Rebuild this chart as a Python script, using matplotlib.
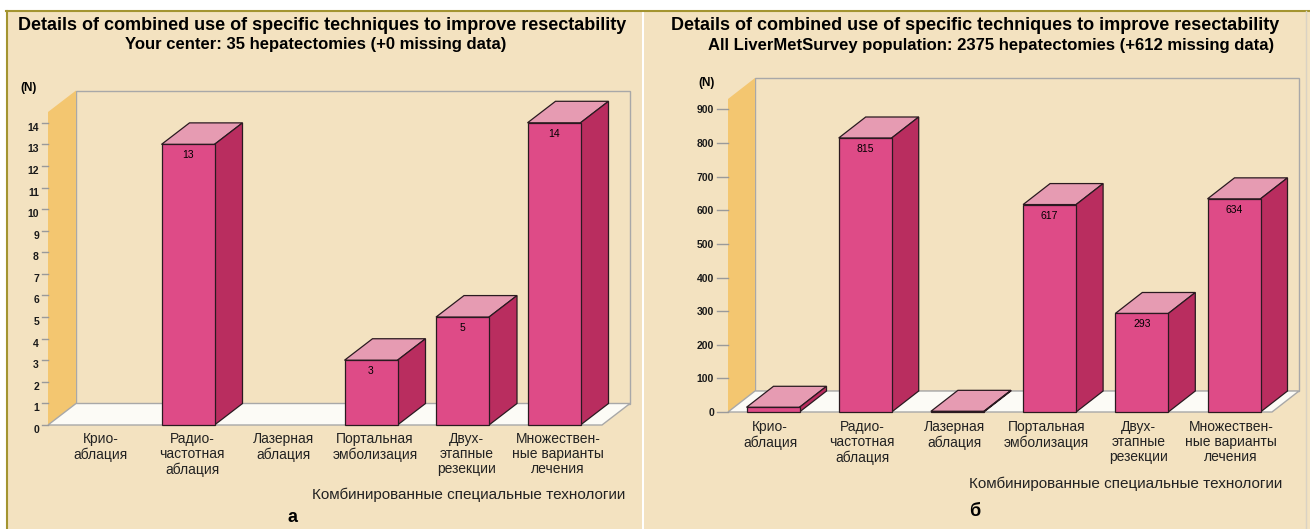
import matplotlib
matplotlib.use('Agg')
import matplotlib.pyplot as plt
from matplotlib.patches import Polygon, Rectangle
from matplotlib.lines import Line2D

plt.rcParams['font.family'] = ['Liberation Sans', 'DejaVu Sans']

# categories and counts
categories = ['Крио-\nаблация', 'Радио-\nчастотная\nаблация', 'Лазерная\nаблация',
              'Портальная\nэмболизация', 'Двух-\nэтапные\nрезекции',
              'Множествен-\nные варианты\nлечения']
center_counts = [0, 13, 0, 3, 5, 14]
survey_counts = [14, 815, 2, 617, 293, 634]
center_ticks = list(range(0, 15))
survey_ticks = list(range(0, 901, 100))

title = 'Details of combined use of specific techniques to improve resectability'
center_subtitle = 'Your center: 35 hepatectomies (+0 missing data)'
survey_subtitle = 'All LiverMetSurvey population: 2375 hepatectomies (+612 missing data)'
xlabel = 'Комбинированные специальные технологии'

W, H = 1310, 529
BG = '#F3E2C0'
OLIVE = '#A39430'
WALL_EDGE = '#A8A8A8'
FLOOR = '#FCFBF6'
YELLOW = '#F3C670'
FRONT = '#DE4B87'
TOP = '#E69BB2'
SIDE = '#B92D5F'
EDGE = '#2A1A20'


def fx(x):
    return x / W


def fy(y):
    return 1 - y / H


fig = plt.figure(figsize=(W / 100, H / 100), dpi=100)
fig.patch.set_facecolor('white')

# panel backgrounds and frame
fig.patches.append(Rectangle((fx(7), 0), fx(642) - fx(7), fy(11), transform=fig.transFigure,
                             fc=BG, ec='none', zorder=-5))
fig.patches.append(Rectangle((fx(644), 0), fx(1310) - fx(644), fy(11), transform=fig.transFigure,
                             fc=BG, ec='none', zorder=-5))
fig.lines.append(Line2D([fx(6), 1], [fy(10.5), fy(10.5)], transform=fig.transFigure,
                        color=OLIVE, lw=1.5, zorder=-4))
fig.lines.append(Line2D([fx(6.5), fx(6.5)], [0, fy(10.5)], transform=fig.transFigure,
                        color=OLIVE, lw=1.5, zorder=-4))
fig.lines.append(Line2D([fx(1306), fx(1306)], [0, fy(11)], transform=fig.transFigure,
                        color='#D9D2C4', lw=1, zorder=-4))


def draw_panel(counts, ticks, ymax, box, first_x, step, depth, tick_len, label_dy):
    left, top, right, bottom = box
    ax = fig.add_axes([fx(left), fy(bottom), (right - left) / W, (bottom - top) / H])
    xlo = (left - first_x) / step
    xhi = (right - first_x) / step
    ax.set_xlim(xlo, xhi)
    ax.set_ylim(0, ymax)
    ax.axis('off')

    px_x = (xhi - xlo) / (right - left)
    px_y = ymax / (bottom - top)
    ddx = depth[0] * px_x
    ddy = depth[1] * px_y

    # back wall, side wall, floor
    ax.add_patch(Polygon([(xlo + ddx, ddy), (xlo + ddx, ymax + ddy), (xhi + ddx, ymax + ddy),
                          (xhi + ddx, ddy)], closed=True, fc=BG, ec=WALL_EDGE, lw=1, clip_on=False))
    ax.add_patch(Polygon([(xlo, 0), (xlo, ymax), (xlo + ddx, ymax + ddy), (xlo + ddx, ddy)],
                         closed=True, fc=YELLOW, ec='none', clip_on=False))
    ax.add_patch(Polygon([(xlo, 0), (xhi, 0), (xhi + ddx, ddy), (xlo + ddx, ddy)],
                         closed=True, fc=FLOOR, ec=WALL_EDGE, lw=1, clip_on=False))

    # y ticks
    for t in ticks:
        ax.plot([xlo - tick_len * px_x, xlo], [t, t], color='#9A9A9A', lw=1, clip_on=False)
        ax.text(xlo - (tick_len + 3) * px_x, t - label_dy * px_y, str(t), ha='right', va='center',
                fontsize=7.5, fontweight='bold', color='#1A1A1A')

    # 3d bars
    bw = 53 * px_x
    for i, v in enumerate(counts):
        if v <= 0:
            continue
        x0, x1 = i - bw / 2, i + bw / 2
        ax.add_patch(Polygon([(x0, v), (x1, v), (x1 + ddx, v + ddy), (x0 + ddx, v + ddy)],
                             closed=True, fc=TOP, ec=EDGE, lw=0.9, clip_on=False, zorder=3))
        ax.add_patch(Polygon([(x1, 0), (x1 + ddx, ddy), (x1 + ddx, v + ddy), (x1, v)],
                             closed=True, fc=SIDE, ec=EDGE, lw=0.9, clip_on=False, zorder=3))
        ax.add_patch(Rectangle((x0, 0), bw, v, fc=FRONT, ec=EDGE, lw=0.9, clip_on=False, zorder=4))
        if v > ymax * 0.05:
            ax.text(i, v - 6 * px_y, str(v), ha='center', va='top', fontsize=7.5, zorder=5)
    return ax


# left panel: one center
draw_panel(center_counts, center_ticks, 14.5, (48, 112, 602, 425), 96.5, 91.5, (28, 21.5), 6, 5)
# right panel: whole survey
draw_panel(survey_counts, survey_ticks, 931, (728, 99, 1272, 412), 773, 92.2, (27, 21), 11, 1)

# titles
fig.text(fx(322), fy(25), title, ha='center', va='center', fontsize=13, fontweight='bold')
fig.text(fx(316), fy(44), center_subtitle, ha='center', va='center', fontsize=12, fontweight='bold')
fig.text(fx(975), fy(25), title, ha='center', va='center', fontsize=13, fontweight='bold')
fig.text(fx(991), fy(46), survey_subtitle, ha='center', va='center', fontsize=12, fontweight='bold')
fig.text(fx(29), fy(88), '(N)', ha='center', va='center', fontsize=8.5, fontweight='bold')
fig.text(fx(707), fy(83), '(N)', ha='center', va='center', fontsize=8.5, fontweight='bold')

# category labels
for i, lab in enumerate(categories):
    fig.text(fx(96.5 + 91.5 * i + 4), fy(432), lab, ha='center', va='top', fontsize=10,
             linespacing=1.1, color='#222222')
    fig.text(fx(773 + 92.2 * i - 3), fy(420), lab, ha='center', va='top', fontsize=10,
             linespacing=1.1, color='#222222')

fig.text(fx(625), fy(495), xlabel, ha='right', va='center', fontsize=11, color='#222222')
fig.text(fx(1282), fy(484), xlabel, ha='right', va='center', fontsize=11, color='#222222')
fig.text(fx(292), fy(517), 'а', ha='center', va='center', fontsize=13, fontweight='bold')
fig.text(fx(975), fy(512), 'б', ha='center', va='center', fontsize=13, fontweight='bold')

fig.savefig('out.png', dpi=100, facecolor='white')
